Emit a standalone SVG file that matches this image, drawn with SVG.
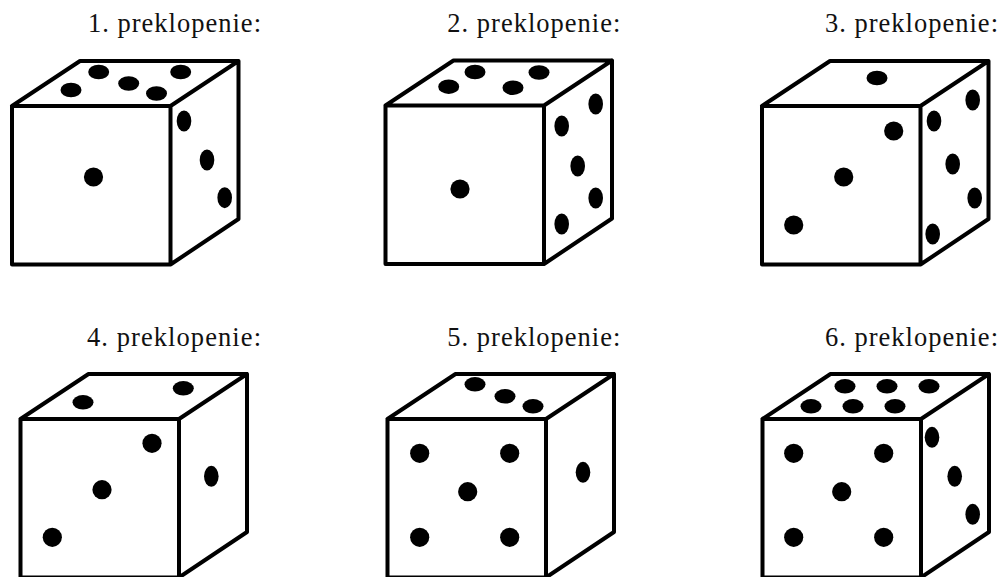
<svg xmlns="http://www.w3.org/2000/svg" width="1005" height="577" viewBox="0 0 1005 577">
<style>
.l{font-family:"Liberation Serif",serif;font-size:26.500px;fill:#111}
.c{fill:none;stroke:#000;stroke-width:4;stroke-linejoin:round;stroke-linecap:round}
.p{fill:#000}
</style>
<defs>
<path id="cube" class="c" d="M0 0H158.500V158.500H0ZM0 0L68 -45H226.500M158.500 0L226.500 -45V113L158.500 158.500"/>
<ellipse id="t" class="p" rx="10.500" ry="7.300"/>
<ellipse id="s" class="p" rx="7.300" ry="10.500"/>
<circle id="f" class="p" r="9.600"/>
</defs>
<rect width="1005" height="577" fill="#fff"/>
<g id="die1">
<text class="l" x="88" y="31.500" textLength="173">1. preklopenie:</text>
<use href="#cube" x="12" y="106"/>
<use href="#t" x="71" y="90"/><use href="#t" x="98.700" y="72"/><use href="#t" x="128.700" y="83.500"/><use href="#t" x="156.500" y="93.500"/><use href="#t" x="180.700" y="72"/>
<use href="#s" x="184" y="121"/><use href="#s" x="207" y="160"/><use href="#s" x="224.700" y="197.700"/>
<use href="#f" x="93.500" y="177"/>
</g>
<g id="die2">
<text class="l" x="447.300" y="31.500" textLength="173">2. preklopenie:</text>
<use href="#cube" x="385.500" y="105.500"/>
<use href="#t" x="448.700" y="86.700"/><use href="#t" x="475" y="72"/><use href="#t" x="513" y="87.700"/><use href="#t" x="539" y="72.500"/>
<use href="#s" x="595.700" y="104"/><use href="#s" x="561.700" y="126"/><use href="#s" x="577.700" y="166"/><use href="#s" x="595.700" y="198"/><use href="#s" x="561.700" y="224"/>
<use href="#f" x="460" y="189"/>
</g>
<g id="die3">
<text class="l" x="825" y="31.500" textLength="173">3. preklopenie:</text>
<use href="#cube" x="762" y="106"/>
<use href="#t" x="877" y="78"/>
<use href="#s" x="972.700" y="100"/><use href="#s" x="934" y="121"/><use href="#s" x="952.700" y="164"/><use href="#s" x="974.700" y="198"/><use href="#s" x="932.700" y="234"/>
<use href="#f" x="893.700" y="131"/><use href="#f" x="843.700" y="177"/><use href="#f" x="793.700" y="225"/>
</g>
<g id="die4">
<text class="l" x="87" y="346" textLength="174">4. preklopenie:</text>
<use href="#cube" x="20.500" y="419"/>
<use href="#t" x="83" y="402.300"/><use href="#t" x="183.300" y="388.300"/>
<use href="#s" x="211.300" y="476.300"/>
<use href="#f" x="152" y="443.300"/><use href="#f" x="102" y="489.700"/><use href="#f" x="52.300" y="537.300"/>
</g>
<g id="die5">
<text class="l" x="447.300" y="346" textLength="173">5. preklopenie:</text>
<use href="#cube" x="387.500" y="419"/>
<use href="#t" x="475" y="384.300"/><use href="#t" x="505" y="396.300"/><use href="#t" x="533" y="406.300"/>
<use href="#s" x="583" y="472.300"/>
<use href="#f" x="419.700" y="453.300"/><use href="#f" x="509.700" y="453.300"/><use href="#f" x="467.700" y="491.700"/><use href="#f" x="419.700" y="537.300"/><use href="#f" x="509.700" y="537.300"/>
</g>
<g id="die6">
<text class="l" x="825" y="346" textLength="173">6. preklopenie:</text>
<use href="#cube" x="762.500" y="419"/>
<use href="#t" x="845" y="386.300"/><use href="#t" x="887" y="386.300"/><use href="#t" x="929" y="386.300"/><use href="#t" x="811" y="406.300"/><use href="#t" x="853" y="406.300"/><use href="#t" x="895" y="406.300"/>
<use href="#s" x="932" y="437.300"/><use href="#s" x="954.700" y="476.300"/><use href="#s" x="972.700" y="514.300"/>
<use href="#f" x="793.700" y="453.300"/><use href="#f" x="883.700" y="453.300"/><use href="#f" x="841.700" y="491.700"/><use href="#f" x="793.700" y="537.300"/><use href="#f" x="883.700" y="537.300"/>
</g>
<g id="connectors"/>
</svg>
